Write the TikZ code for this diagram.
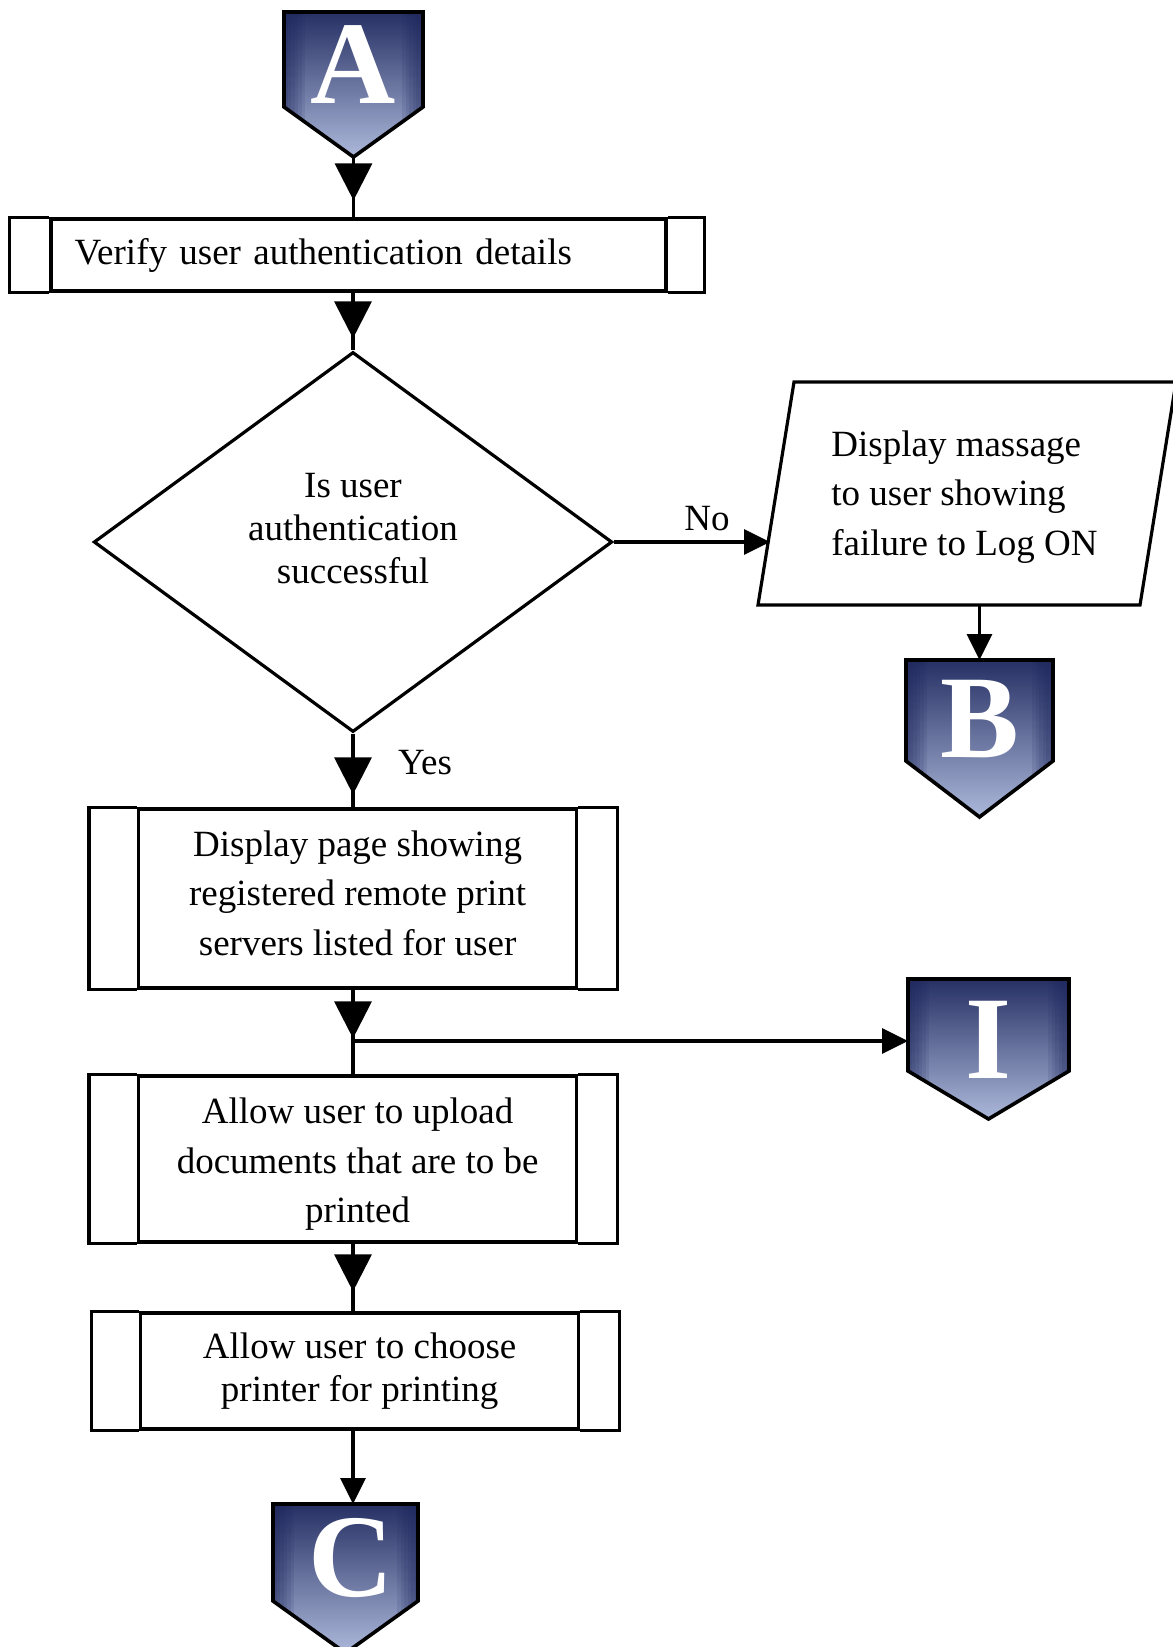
\documentclass[tikz,border=0pt]{standalone}
\usepackage{fontspec}
\setmainfont{Liberation Serif}
\usetikzlibrary{shapes.geometric,arrows.meta,decorations.markings,calc}

\definecolor{navytop}{RGB}{38,48,100}
\definecolor{navymid}{RGB}{102,114,160}
\definecolor{navybot}{RGB}{172,184,218}
\definecolor{navyedge}{RGB}{28,38,92}

\tikzset{
  x=0.5pt, y=-0.5pt,
  lw/.style={line width=1.6pt},
  body/.style={font=\fontsize{18.5}{24.7}\selectfont},
  tight/.style={font=\fontsize{18.5}{21.5}\selectfont},
  subproc/.style={draw, lw, inner sep=0pt, align=center, body},
  boxtext/.style={body, align=center, inner sep=0pt},
  decision/.style={draw, lw, diamond, inner sep=0pt},
  bigtip/.tip={Triangle[width=18.5pt,length=18.5pt]},
  smalltip/.tip={Triangle[width=12.5pt,length=13pt]},
  midtip/.style={postaction={decorate},
    decoration={markings, mark=at position -#1 with {\arrow{bigtip}}}},
  letter/.style={text=white, font=\fontsize{59}{59}\bfseries\selectfont, inner sep=0pt},
}

% off-page connector: name, centre x, top y, width, body height, point drop, letter, letter dx, letter dy
\newcommand\offpage[9]{%
  \node[minimum width=#4*0.5pt, minimum height=#5*0.5pt, inner sep=0pt, outer sep=0pt] (#1) at (#2, #3+#5/2) {};
  \coordinate (#1-tip) at ($(#1.south)+(0,#6)$);
  \begin{scope}
    \clip (#1.north west) -- (#1.north east) -- (#1.south east) -- (#1-tip) -- (#1.south west) -- cycle;
    \shade[top color=navytop, middle color=navymid, bottom color=navybot]
      (#1.north west) rectangle ($(#1.south east)+(0,#6)$);
    \foreach \k in {1,...,6} {
      \fill[navyedge, opacity=0.12] (#1.north west) rectangle ($(#1.south west)+(\k*3.5,#6)$);
      \fill[navyedge, opacity=0.12] (#1.north east) rectangle ($(#1.south east)+(-\k*3.5,#6)$);
    }
  \end{scope}
  \draw[line width=1.8pt, line join=miter]
    (#1.north west) -- (#1.north east) -- (#1.south east) -- (#1-tip) -- (#1.south west) -- cycle;
  \node[letter] at ($(#1.center)+(#8,#9)$) {#7};
}

\begin{document}
\begin{tikzpicture}
\useasboundingbox (0,0) rectangle (1172,1647);

% off-page connectors
\offpage{A}{353.5}{12}{139}{95}{50}{A}{0}{5}
\offpage{B}{979.5}{660}{147}{101}{56}{B}{0}{9}
\offpage{I}{988.5}{979}{161}{92}{48}{I}{0}{15}
\offpage{C}{345.5}{1504}{145}{97}{52}{C}{6}{5}

% process steps
\node[subproc, align=left, minimum width=307.5pt, minimum height=36pt,
      text width=283.9pt, inner xsep=11.8pt] (box1) at (358.5,255)
  {Verify user authentication details};
\node[decision, minimum width=259.25pt, minimum height=190pt,
      label={[tight, align=center, yshift=6.5pt]center:{Is user\\authentication\\successful}}]
  (dec) at (353,542) {};
\node[subproc, minimum width=219pt, minimum height=89.5pt,
      label={[boxtext, yshift=2.6pt]center:{Display page showing\\registered remote print\\servers listed for user}}]
  (box2) at (357.6,898.5) {};
\node[subproc, minimum width=219pt, minimum height=83pt,
      label={[boxtext, yshift=-2.6pt]center:{Allow user to upload\\documents that are to be\\printed}}]
  (box3) at (357.6,1159) {};
\node[subproc, tight, minimum width=219pt, minimum height=58pt] (box4) at (359.7,1371)
  {Allow user to choose\\printer for printing};

% side bars of the predefined-process boxes
\foreach \n/\l/\r in {box1/40/37, box2/48/39, box3/48/39, box4/48/39} {
  \draw[lw, line join=miter] (\n.north west) -- ++(-\l,0) |- (\n.south west);
  \draw[lw, line join=miter] (\n.north east) -- ++(\r,0) |- (\n.south east);
}

% failure message (input/output parallelogram)
\draw[lw, line join=miter] (794,382) coordinate (msgtl) -- (1176,382) -- (1140,605)
  -- (758,605) coordinate (msgbl) -- cycle;
\node[body, align=left, anchor=west, inner sep=0pt] (msg) at (831,497)
  {Display massage\\to user showing\\failure to Log ON};
\coordinate (noend) at (770,542);
\coordinate (msgout) at (979.5,605);

% connectors
\coordinate (split) at (353,1041);
\draw[lw, midtip=8.5pt] (A-tip) -- (A-tip |- box1.north);
\draw[lw, midtip=6pt] (dec.north |- box1.south) -- (dec.north);
\draw[lw, midtip=6.5pt] (dec.south) -- (dec.south |- box2.north);
\draw[lw, midtip=18pt] (dec.south |- box2.south) -- (dec.south |- box3.north);
\draw[lw, -{smalltip}] (split) -- (split -| I.west);
\draw[lw, midtip=10pt] (dec.south |- box3.south) -- (dec.south |- box4.north);
\draw[lw, -{smalltip}] (dec.south |- box4.south) -- (dec.south |- C.north);
\draw[lw, -{smalltip}] (dec.east) -- (noend);
\draw[lw, -{smalltip}] (msgout) -- (B.north);

% branch labels
\node[body, inner sep=0pt] (nolabel) at (707,519) {No};
\node[body, inner sep=0pt] (yeslabel) at (425,763) {Yes};
\end{tikzpicture}
\end{document}
